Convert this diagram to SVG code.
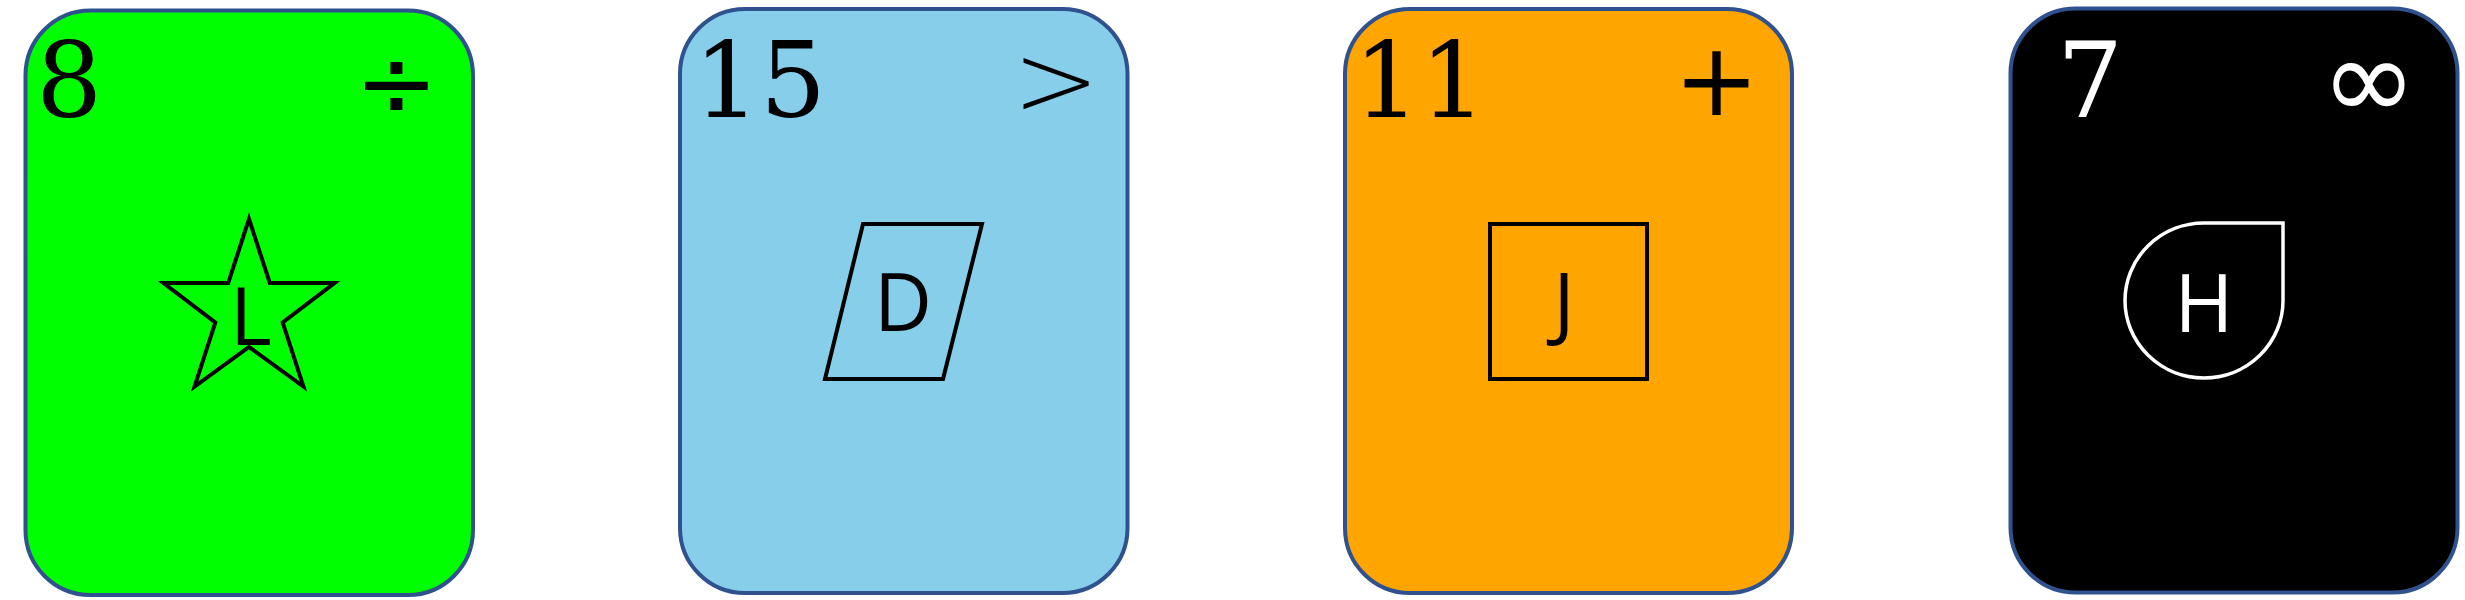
<svg xmlns="http://www.w3.org/2000/svg" width="2465" height="600" viewBox="0 0 2465 600">
<style>
.card{stroke:#2F528F;stroke-width:4}
.num{font-family:"DejaVu Serif","Liberation Serif",serif;font-size:104px;text-anchor:middle}
.sym{font-family:"DejaVu Sans",sans-serif;font-size:100px;text-anchor:middle;dominant-baseline:central}
.lbl{font-family:"Open Sans","Noto Sans",sans-serif;font-size:80px;text-anchor:middle}
.shape{fill:none;stroke-width:4}
</style>
<rect width="2465" height="600" fill="#ffffff"/>
<g id="card1">
<rect class="card" x="25.5" y="10.5" width="447.5" height="584.5" rx="65" ry="65" fill="#00FF00"/>
<text class="num" x="69" y="117" fill="#000">8</text>
<text class="sym" x="396.5" y="82" fill="#000">÷</text>
<polygon class="shape" stroke="#000" points="249,219 269.8,283 334.5,283 282.7,322.5 303.4,386.5 249,347 194.6,386.5 215.3,322.5 163.5,283 228.2,283"/>
<text class="lbl" x="251" y="345" fill="#000">L</text>
</g>
<g id="card2">
<rect class="card" x="680" y="9" width="447.5" height="584" rx="65" ry="65" fill="#87CEEB"/>
<text class="num" x="760" y="117" fill="#000">15</text>
<text class="sym" x="1056" y="80" fill="#000" style="font-weight:200;font-size:104px">&gt;</text>
<polygon class="shape" stroke="#000" points="863,224 982,224 943,379 825,379"/>
<text class="lbl" x="903" y="331" fill="#000">D</text>
</g>
<g id="card3">
<rect class="card" x="1345" y="9" width="447" height="584" rx="65" ry="65" fill="#FFA500"/>
<text class="num" x="1420" y="117" fill="#000">11</text>
<text class="sym" x="1716.5" y="79.5" fill="#000" style="font-size:102px">+</text>
<rect class="shape" stroke="#000" x="1490" y="224" width="157" height="155"/>
<text class="lbl" x="1564" y="331" fill="#000">J</text>
</g>
<g id="card4">
<rect class="card" x="2010.5" y="8.5" width="447" height="584" rx="65" ry="65" fill="#000000"/>
<text class="num" x="2090" y="117" fill="#fff">7</text>
<text class="sym" x="2369" y="78.5" fill="#fff" style="font-size:115px">∞</text>
<path class="shape" stroke="#fff" style="stroke-width:3.5" d="M2204,223 L2283,223 L2283,300.5 A79,77.5 0 1 1 2204,223 Z"/>
<text class="lbl" x="2204" y="332" fill="#fff">H</text>
</g>
<g id="connectors"/>
</svg>
